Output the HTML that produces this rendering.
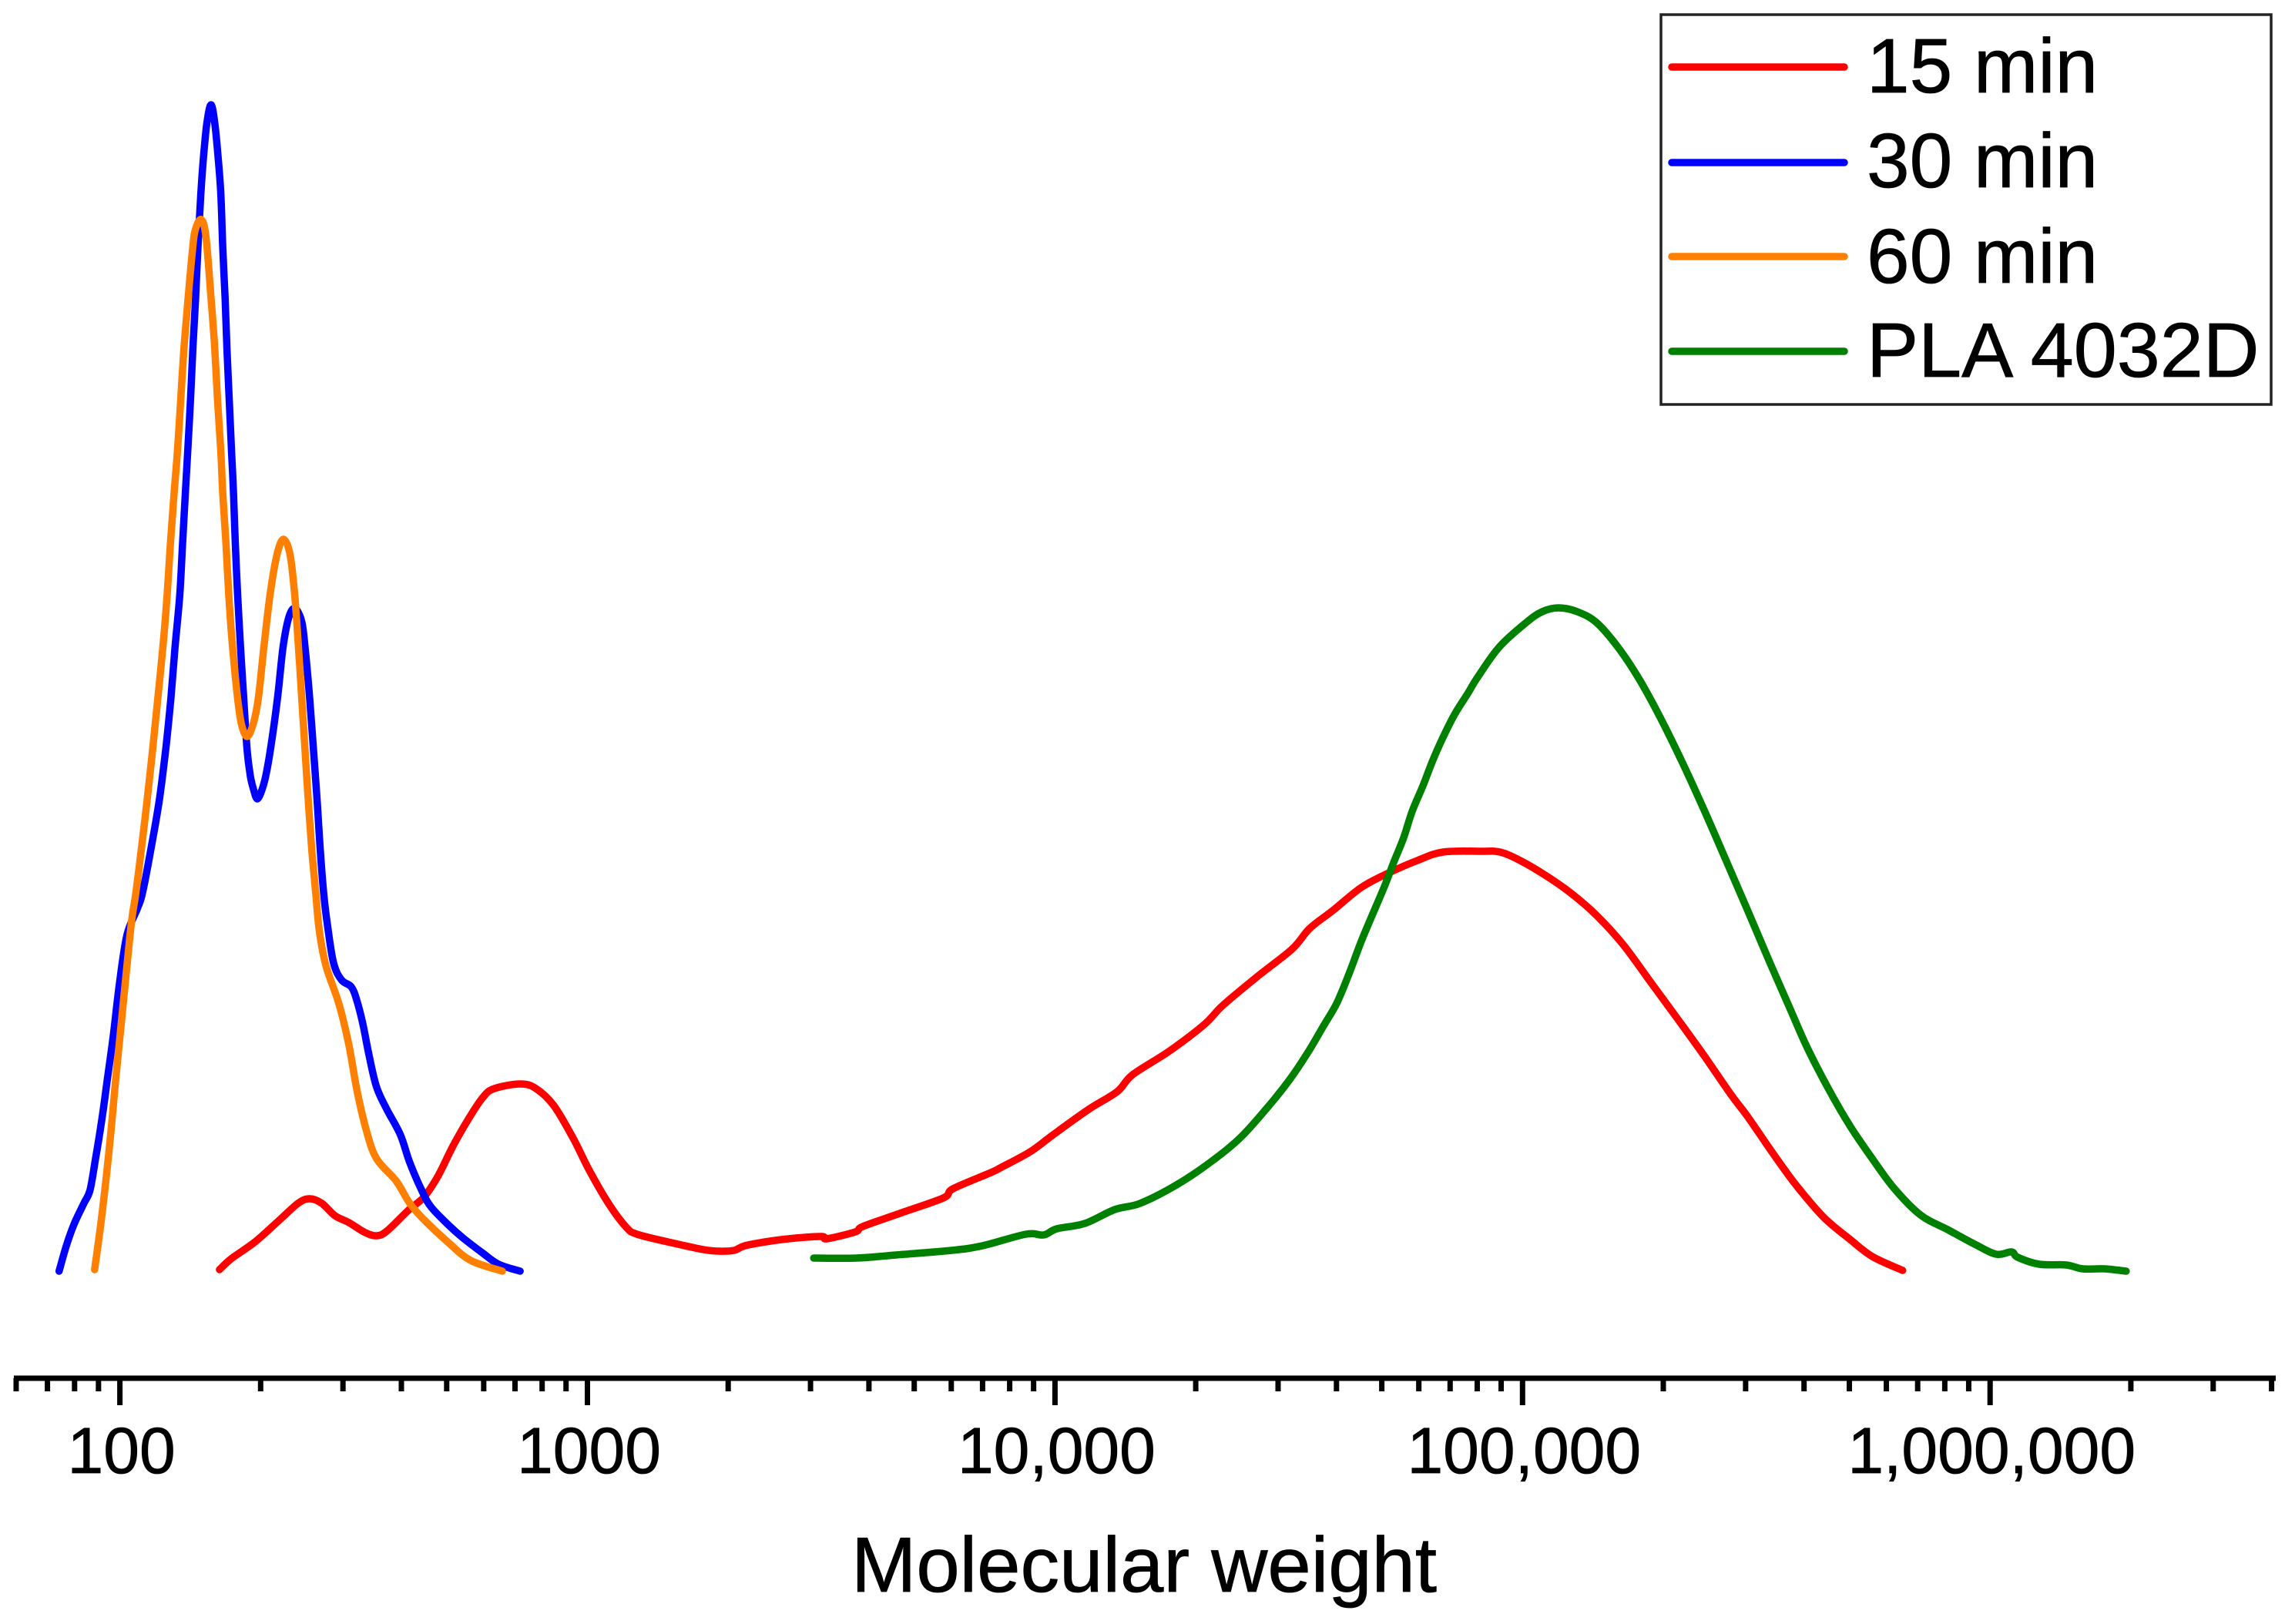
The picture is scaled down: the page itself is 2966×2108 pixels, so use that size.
<!DOCTYPE html>
<html lang="en">
<head>
<meta charset="utf-8">
<title>Molecular weight distribution</title>
<style>
html,body{margin:0;padding:0;background:#fff;}
svg{display:block;font-family:"Liberation Sans",Arial,sans-serif;}
</style>
</head>
<body>
<svg id="chart" xmlns="http://www.w3.org/2000/svg" width="2966" height="2108" viewBox="0 0 2966 2108">
  <rect x="0" y="0" width="2966" height="2108" fill="#ffffff"/>
  <g id="series"></g>
  <g id="axis">
    <line x1="18" y1="1789" x2="2954" y2="1789" stroke="#000" stroke-width="7"/>
  </g>
  <text x="1485" y="2066" font-size="101.3" text-anchor="middle" fill="#000" stroke="#000" stroke-width="0.8">Molecular weight</text>
  <g>
    <rect x="2156" y="19" width="792" height="506" fill="#fff" stroke="#222" stroke-width="3.5"/>
    <g>
      <line x1="2170" y1="87" x2="2394" y2="87" stroke="#ff0000" stroke-width="9.5" stroke-linecap="round"/>
      <text x="2423" y="120" font-size="100" fill="#000" stroke="#000" stroke-width="0.8">15 min</text>
    </g>
    <g>
      <line x1="2170" y1="211" x2="2394" y2="211" stroke="#0000ff" stroke-width="9.5" stroke-linecap="round"/>
      <text x="2423" y="243" font-size="100" fill="#000" stroke="#000" stroke-width="0.8">30 min</text>
    </g>
    <g>
      <line x1="2170" y1="333" x2="2394" y2="333" stroke="#ff8000" stroke-width="9.5" stroke-linecap="round"/>
      <text x="2423" y="367" font-size="100" fill="#000" stroke="#000" stroke-width="0.8">60 min</text>
    </g>
    <g>
      <line x1="2170" y1="456" x2="2394" y2="456" stroke="#008000" stroke-width="9.5" stroke-linecap="round"/>
      <text x="2423" y="489" font-size="100.7" fill="#000" stroke="#000" stroke-width="0.8">PLA 4032D</text>
    </g>
  </g>
</svg>
<script>
// Tick data
const majorTickValues = [100, 1000, 10000, 100000, 1000000];
const majorTickLabels = ["100", "1000", "10,000", "100,000", "1,000,000"];
const minorTickValues = [60, 70, 80, 90,
  200, 300, 400, 500, 600, 700, 800, 900,
  2000, 3000, 4000, 5000, 6000, 7000, 8000, 9000,
  20000, 30000, 40000, 50000, 60000, 70000, 80000, 90000,
  200000, 300000, 400000, 500000, 600000, 700000, 800000, 900000,
  2000000, 3000000, 4000000];

// Series data: log10(molecular weight) and relative intensity (arbitrary units)
const min15LogMw = [
  2.213,2.238,2.289,2.339,2.381,2.406,2.432,2.460,2.490,2.525,
  2.549,2.571,2.617,2.650,2.680,2.713,2.747,2.777,2.801,2.856,
  2.890,2.928,2.970,3.003,3.045,3.083,3.106,3.172,3.248,3.281,
  3.314,3.337,3.391,3.446,3.502,3.512,3.573,3.589,3.668,3.761,
  3.782,3.863,3.886,3.947,3.996,4.072,4.133,4.166,4.243,4.319,
  4.359,4.434,4.507,4.545,4.594,4.655,4.714,4.775,4.830,4.912,
  4.952,4.995,5.051,5.105,5.158,5.215,5.273,5.331,5.388,5.446,
  5.481,5.539,5.586,5.644,5.701,5.748,5.813];
const min15Intensity = [
  2,16,38,65,88,94,88,72,63,50,
  46,52,79,96,123,163,199,226,237,243,
  237,215,172,132,88,57,48,38,28,26,
  27,33,39,43,45,42,51,58,75,95,
  107,128,135,155,177,210,233,255,285,320,
  345,383,418,445,468,498,517,533,544,545,
  544,533,513,490,462,424,376,328,280,229,
  201,150,111,70,41,19,1];

const min30LogMw = [
  1.870,1.885,1.902,1.923,1.936,1.948,1.961,1.973,1.986,1.999,
  2.015,2.037,2.048,2.065,2.084,2.098,2.109,2.118,2.128,2.134,
  2.140,2.145,2.151,2.156,2.162,2.167,2.173,2.179,2.186,2.195,
  2.203,2.210,2.216,2.220,2.225,2.229,2.234,2.239,2.243,2.247,
  2.252,2.258,2.265,2.272,2.279,2.286,2.294,2.304,2.312,2.322,
  2.337,2.349,2.362,2.375,2.389,2.396,2.406,2.414,2.422,2.429,
  2.436,2.444,2.457,2.474,2.495,2.507,2.520,2.533,2.549,2.571,
  2.600,2.620,2.647,2.666,2.701,2.734,2.777,2.810,2.856];
const min30Intensity = [
  0,32,61,88,105,146,195,248,306,373,
  436,470,490,543,610,677,743,810,877,943,
  1010,1063,1130,1197,1263,1330,1397,1447,1490,1514,
  1490,1447,1397,1330,1263,1197,1130,1063,1010,943,
  877,810,743,677,643,625,613,625,643,677,
  743,810,850,860,843,810,743,677,610,543,
  490,449,400,378,369,351,320,280,239,210,
  177,141,103,83,61,43,23,9,0];

const min60LogMw = [
  1.946,1.961,1.978,1.991,2.007,2.024,2.034,2.045,2.058,2.070,
  2.081,2.092,2.101,2.108,2.116,2.123,2.130,2.137,2.146,2.156,
  2.162,2.174,2.184,2.195,2.203,2.209,2.216,2.220,2.227,2.233,
  2.241,2.252,2.260,2.272,2.285,2.296,2.308,2.321,2.336,2.350,
  2.364,2.374,2.382,2.389,2.396,2.403,2.411,2.419,2.427,2.441,
  2.469,2.490,2.507,2.528,2.549,2.591,2.620,2.650,2.701,2.750,
  2.818];
const min60Intensity = [
  2,70,163,248,346,449,490,543,610,677,
  743,810,877,943,1010,1063,1130,1197,1263,1330,
  1353,1365,1343,1263,1197,1130,1063,1010,943,877,
  810,743,710,694,710,743,810,877,930,950,
  930,877,810,743,677,610,543,490,440,396,
  346,293,235,181,146,117,88,67,38,14,
  0];

const plaLogMw = [
  3.484,3.576,3.660,3.779,3.845,3.938,3.976,4.004,4.064,4.128,
  4.182,4.260,4.336,4.396,4.451,4.500,4.540,4.573,4.602,4.627,
  4.655,4.682,4.705,4.726,4.746,4.764,4.787,4.808,4.830,4.855,
  4.883,4.903,4.950,5.008,5.042,5.077,5.117,5.158,5.204,5.250,
  5.296,5.342,5.388,5.434,5.481,5.528,5.574,5.609,5.655,5.701,
  5.748,5.794,5.851,5.909,5.967,6.013,6.046,6.059,6.105,6.163,
  6.198,6.245,6.291];
const plaIntensity = [
  17,17,21,27,33,48,47,55,62,80,
  88,112,143,173,210,247,283,317,347,383,
  428,467,500,533,563,597,630,663,693,723,
  750,770,810,842,856,861,856,842,810,768,
  717,660,599,535,469,402,338,290,236,188,
  146,108,73,54,35,22,25,18,9,8,
  3,3,0];

const SVG_NS = "http://www.w3.org/2000/svg";
const PLOT_X0 = 155.6, DECADE_PX = 606.9, PLOT_Y0 = 1650, Y_PX_PER_UNIT = 1;

function xFromLog(logMw) { return PLOT_X0 + DECADE_PX * (logMw - 2); }
function xFromMw(mw) { return xFromLog(Math.log10(mw)); }
function yFromIntensity(v) { return PLOT_Y0 - Y_PX_PER_UNIT * v; }

function smoothPath(xs, ys) {
  const pts = xs.map(function (lx, i) { return [xFromLog(lx), yFromIntensity(ys[i])]; });
  let d = "M" + pts[0][0].toFixed(1) + " " + pts[0][1].toFixed(1);
  for (let i = 0; i < pts.length - 1; i++) {
    const p0 = pts[Math.max(i - 1, 0)], p1 = pts[i], p2 = pts[i + 1], p3 = pts[Math.min(i + 2, pts.length - 1)];
    const c1x = p1[0] + (p2[0] - p0[0]) / 6, c1y = p1[1] + (p2[1] - p0[1]) / 6;
    const c2x = p2[0] - (p3[0] - p1[0]) / 6, c2y = p2[1] - (p3[1] - p1[1]) / 6;
    d += "C" + c1x.toFixed(1) + " " + c1y.toFixed(1) + " " + c2x.toFixed(1) + " " + c2y.toFixed(1) + " " + p2[0].toFixed(1) + " " + p2[1].toFixed(1);
  }
  return d;
}

const axisGroup = document.getElementById("axis");
minorTickValues.forEach(function (v) {
  const t = document.createElementNS(SVG_NS, "line");
  
  
  t.setAttribute("x1", xFromMw(v)); t.setAttribute("x2", xFromMw(v));
  t.setAttribute("y1", 1789); t.setAttribute("y2", 1806);
  t.setAttribute("stroke", "#000"); t.setAttribute("stroke-width", 7);
  axisGroup.appendChild(t);
});
majorTickValues.forEach(function (v, i) {
  const t = document.createElementNS(SVG_NS, "line");
  
  
  t.setAttribute("x1", xFromMw(v)); t.setAttribute("x2", xFromMw(v));
  t.setAttribute("y1", 1789); t.setAttribute("y2", 1824);
  t.setAttribute("stroke", "#000"); t.setAttribute("stroke-width", 7);
  axisGroup.appendChild(t);
  const label = document.createElementNS(SVG_NS, "text");
  
  
  label.setAttribute("x", xFromMw(v) + 2);
  label.setAttribute("y", 1912);
  label.setAttribute("font-size", 84);
  label.setAttribute("text-anchor", "middle");
  label.setAttribute("fill", "#000");
  label.setAttribute("stroke", "#000");
  label.setAttribute("stroke-width", 0.8);
  label.textContent = majorTickLabels[i];
  axisGroup.appendChild(label);
});

const seriesGroup = document.getElementById("series");

const pathRed = document.createElementNS(SVG_NS, "path");


pathRed.setAttribute("d", smoothPath(min15LogMw, min15Intensity));
pathRed.setAttribute("stroke", "#ff0000");
seriesGroup.appendChild(pathRed);

const pathGreen = document.createElementNS(SVG_NS, "path");


pathGreen.setAttribute("d", smoothPath(plaLogMw, plaIntensity));
pathGreen.setAttribute("stroke", "#008000");
seriesGroup.appendChild(pathGreen);

const pathBlue = document.createElementNS(SVG_NS, "path");


pathBlue.setAttribute("d", smoothPath(min30LogMw, min30Intensity));
pathBlue.setAttribute("stroke", "#0000ff");
seriesGroup.appendChild(pathBlue);

const pathOrange = document.createElementNS(SVG_NS, "path");


pathOrange.setAttribute("d", smoothPath(min60LogMw, min60Intensity));
pathOrange.setAttribute("stroke", "#ff8000");
seriesGroup.appendChild(pathOrange);

[pathRed, pathGreen, pathBlue, pathOrange].forEach(function (p) {
  p.setAttribute("fill", "none");
  p.setAttribute("stroke-width", 9.5);
  p.setAttribute("stroke-linecap", "round");
  p.setAttribute("stroke-linejoin", "round");
});
</script>
</body>
</html>
